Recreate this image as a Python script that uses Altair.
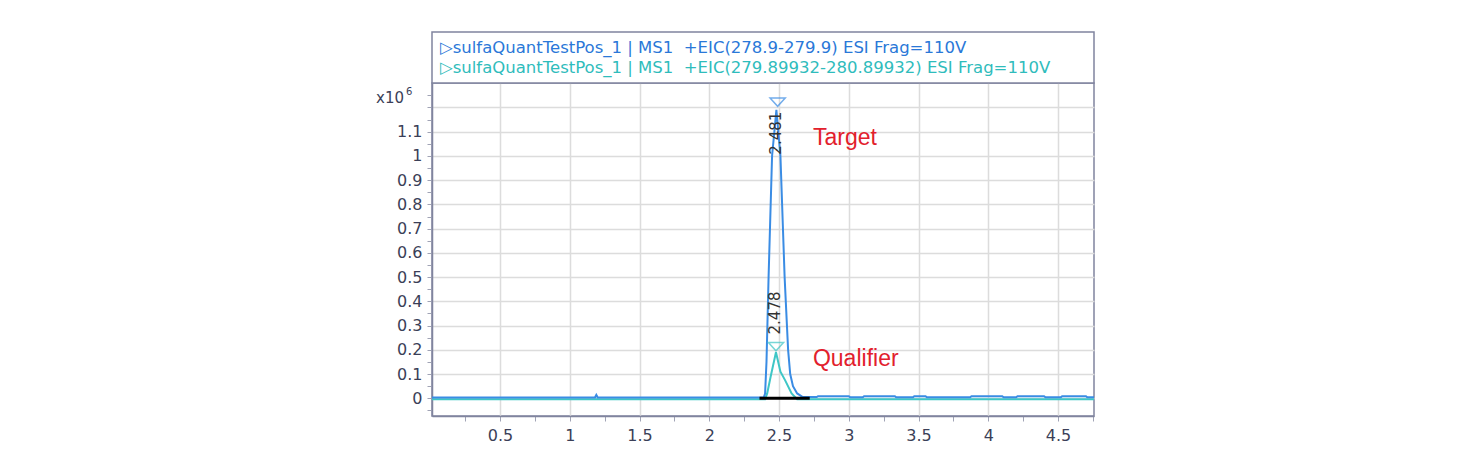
import altair as alt
import pandas as pd

# ---------------- data ----------------
rt_target = [0.012, 1.18, 1.19, 1.20, 2.39, 2.40, 2.41, 2.425, 2.45, 2.481, 2.51, 2.54,
             2.565, 2.58, 2.60, 2.63, 2.67, 2.77, 2.78, 3.00, 3.01, 3.10, 3.11, 3.33,
             3.34, 3.46, 3.47, 3.55, 3.56, 3.87, 3.88, 4.10, 4.11, 4.20, 4.21, 4.40,
             4.41, 4.52, 4.53, 4.70, 4.71, 4.758]
int_target = [0.003, 0.003, 0.014, 0.003, 0.003, 0.02, 0.15, 0.5, 1.0, 1.19, 1.0, 0.5,
              0.2, 0.1, 0.05, 0.02, 0.005, 0.005, 0.009, 0.009, 0.004, 0.004, 0.009, 0.009,
              0.004, 0.004, 0.009, 0.009, 0.004, 0.004, 0.009, 0.009, 0.004, 0.004, 0.009, 0.009,
              0.004, 0.004, 0.009, 0.009, 0.004, 0.004]

rt_qual = [0.012, 2.40, 2.415, 2.44, 2.478, 2.51, 2.543, 2.59, 2.63, 2.90, 3.20, 3.90, 4.30, 4.758]
int_qual = [-0.004, -0.004, 0.02, 0.09, 0.19, 0.11, 0.075, 0.02, -0.004, -0.004, -0.004,
            -0.004, -0.004, -0.004]

baseline_rt = [2.36, 2.72]
baseline_int = [0.0, 0.0]

marker_series = ["Target", "Qualifier"]
marker_rt = [2.49, 2.478]
marker_int = [1.222, 0.213]

peak_labels = ["2.481", "2.478"]
peak_label_rt = [2.48, 2.472]
peak_label_int = [1.094, 0.352]

annot_text = ["Target", "Qualifier"]
annot_rt = [2.743, 2.743]
annot_int = [1.045, 0.133]

legend_lines = [
    "\u25b7sulfaQuantTestPos_1 | MS1 \u00a0+EIC(278.9-279.9) ESI Frag=110V",
    "\u25b7sulfaQuantTestPos_1 | MS1 \u00a0+EIC(279.89932-280.89932) ESI Frag=110V",
]

x_ticks = [round(0.25 * i, 2) for i in range(1, 20)]
y_ticks = [round(-0.05 + 0.05 * i, 2) for i in range(27)]

# ---------------- style ----------------
BLUE = "#3a8ce4"
TEAL = "#3ec6c6"
LEG_BLUE = "#2a78d8"
LEG_TEAL = "#2fbcbc"
RED = "#e2202c"
FRAME = "#80849e"
LABEL = "#3b3f58"
W, H = 662, 333
FONT = "DejaVu Sans"

x_major = "abs(datum.value*2 - round(datum.value*2)) < 1e-6"
y_major = "abs(datum.value*10 - round(datum.value*10)) < 1e-6"

x_scale = alt.Scale(domain=[0.012, 4.758], nice=False, zero=False)
y_scale = alt.Scale(domain=[-0.073, 1.301], nice=False, zero=False)

x_axis = alt.Axis(
    values=x_ticks, title=None, tickSize=5, labelPadding=6,
    labelExpr=f"{x_major} ? format(datum.value, '.1~f') : ''",
    gridOpacity={"condition": {"test": x_major, "value": 1}, "value": 0},
)
y_axis = alt.Axis(
    values=y_ticks, title=None, tickSize=5, labelPadding=5,
    labelExpr=f"({y_major}) && datum.value < 1.15 && datum.value > -0.01 ? format(datum.value, '.1~f') : ''",
    gridOpacity={"condition": {"test": f"({y_major}) && datum.value > -0.01", "value": 1}, "value": 0},
)

df_t = pd.DataFrame({"rt": rt_target, "inten": int_target, "i": range(len(rt_target))})
df_q = pd.DataFrame({"rt": rt_qual, "inten": int_qual, "i": range(len(rt_qual))})
df_bl = pd.DataFrame({"rt": baseline_rt, "inten": baseline_int})
df_m = pd.DataFrame({"series": marker_series, "rt": marker_rt, "inten": marker_int})
df_pl = pd.DataFrame({"t": peak_labels, "rt": peak_label_rt, "inten": peak_label_int})
df_an = pd.DataFrame({"t": annot_text, "rt": annot_rt, "inten": annot_int})

X = alt.X("rt:Q", scale=x_scale, axis=x_axis)
Y = alt.Y("inten:Q", scale=y_scale, axis=y_axis)

legend_box = alt.Chart(pd.DataFrame({"a": [0]})).mark_rect(
    fill="white", stroke=FRAME, strokeWidth=1.5
).encode(x=alt.value(0), x2=alt.value(W), y=alt.value(-51), y2=alt.value(0))

leg1 = alt.Chart(pd.DataFrame({"t": [legend_lines[0]]})).mark_text(
    align="left", baseline="alphabetic", font=FONT, fontSize=16.5, color=LEG_BLUE
).encode(x=alt.value(8), y=alt.value(-30), text="t:N")
leg2 = alt.Chart(pd.DataFrame({"t": [legend_lines[1]]})).mark_text(
    align="left", baseline="alphabetic", font=FONT, fontSize=16.5, color=LEG_TEAL
).encode(x=alt.value(8), y=alt.value(-10), text="t:N")

line_q = alt.Chart(df_q).mark_line(color=TEAL, strokeWidth=2).encode(x=X, y=Y, order="i:Q")
line_t = alt.Chart(df_t).mark_line(color=BLUE, strokeWidth=2).encode(x=X, y=Y, order="i:Q")
line_bl = alt.Chart(df_bl).mark_line(color="black", strokeWidth=3).encode(x=X, y=Y)

markers = alt.Chart(df_m).mark_point(
    shape="M-1,-0.55L1,-0.55L0,0.55Z", filled=False, size=230, strokeWidth=1.5
).encode(
    x=X, y=Y,
    color=alt.Color("series:N", scale=alt.Scale(domain=["Target", "Qualifier"], range=[BLUE, TEAL]), legend=None),
)

plabels = alt.Chart(df_pl).mark_text(
    angle=270, font=FONT, fontSize=15, color="#333333", align="center", baseline="middle"
).encode(x=X, y=Y, text="t:N")

annots = alt.Chart(df_an).mark_text(
    align="left", baseline="alphabetic", font="Liberation Sans", fontSize=23, color=RED
).encode(x=X, y=Y, text="t:N")

x10 = alt.Chart(pd.DataFrame({"t": ["x10"]})).mark_text(
    align="right", baseline="alphabetic", font=FONT, fontSize=15, color=LABEL
).encode(x=alt.value(-28), y=alt.value(20), text="t:N")
sup6 = alt.Chart(pd.DataFrame({"t": ["6"]})).mark_text(
    align="left", baseline="alphabetic", font=FONT, fontSize=10, color=LABEL
).encode(x=alt.value(-26), y=alt.value(12), text="t:N")

chart = alt.layer(
    line_q, line_t, line_bl, markers, plabels, annots, legend_box, leg1, leg2, x10, sup6
).properties(
    width=W, height=H,
    padding={"left": 424, "top": 75, "right": 10, "bottom": 40},
    autosize=alt.AutoSizeParams(type="none"),
).configure_view(
    stroke=FRAME, strokeWidth=1.5
).configure_axis(
    domainColor=FRAME, domainWidth=1.5, tickColor="#a0a3b5", tickWidth=1,
    gridColor="#dcdcdc", gridWidth=1.5,
    labelFont=FONT, labelFontSize=16, labelColor=LABEL,
)

chart.save("out.html", embed_options={"renderer": "svg", "actions": False})
